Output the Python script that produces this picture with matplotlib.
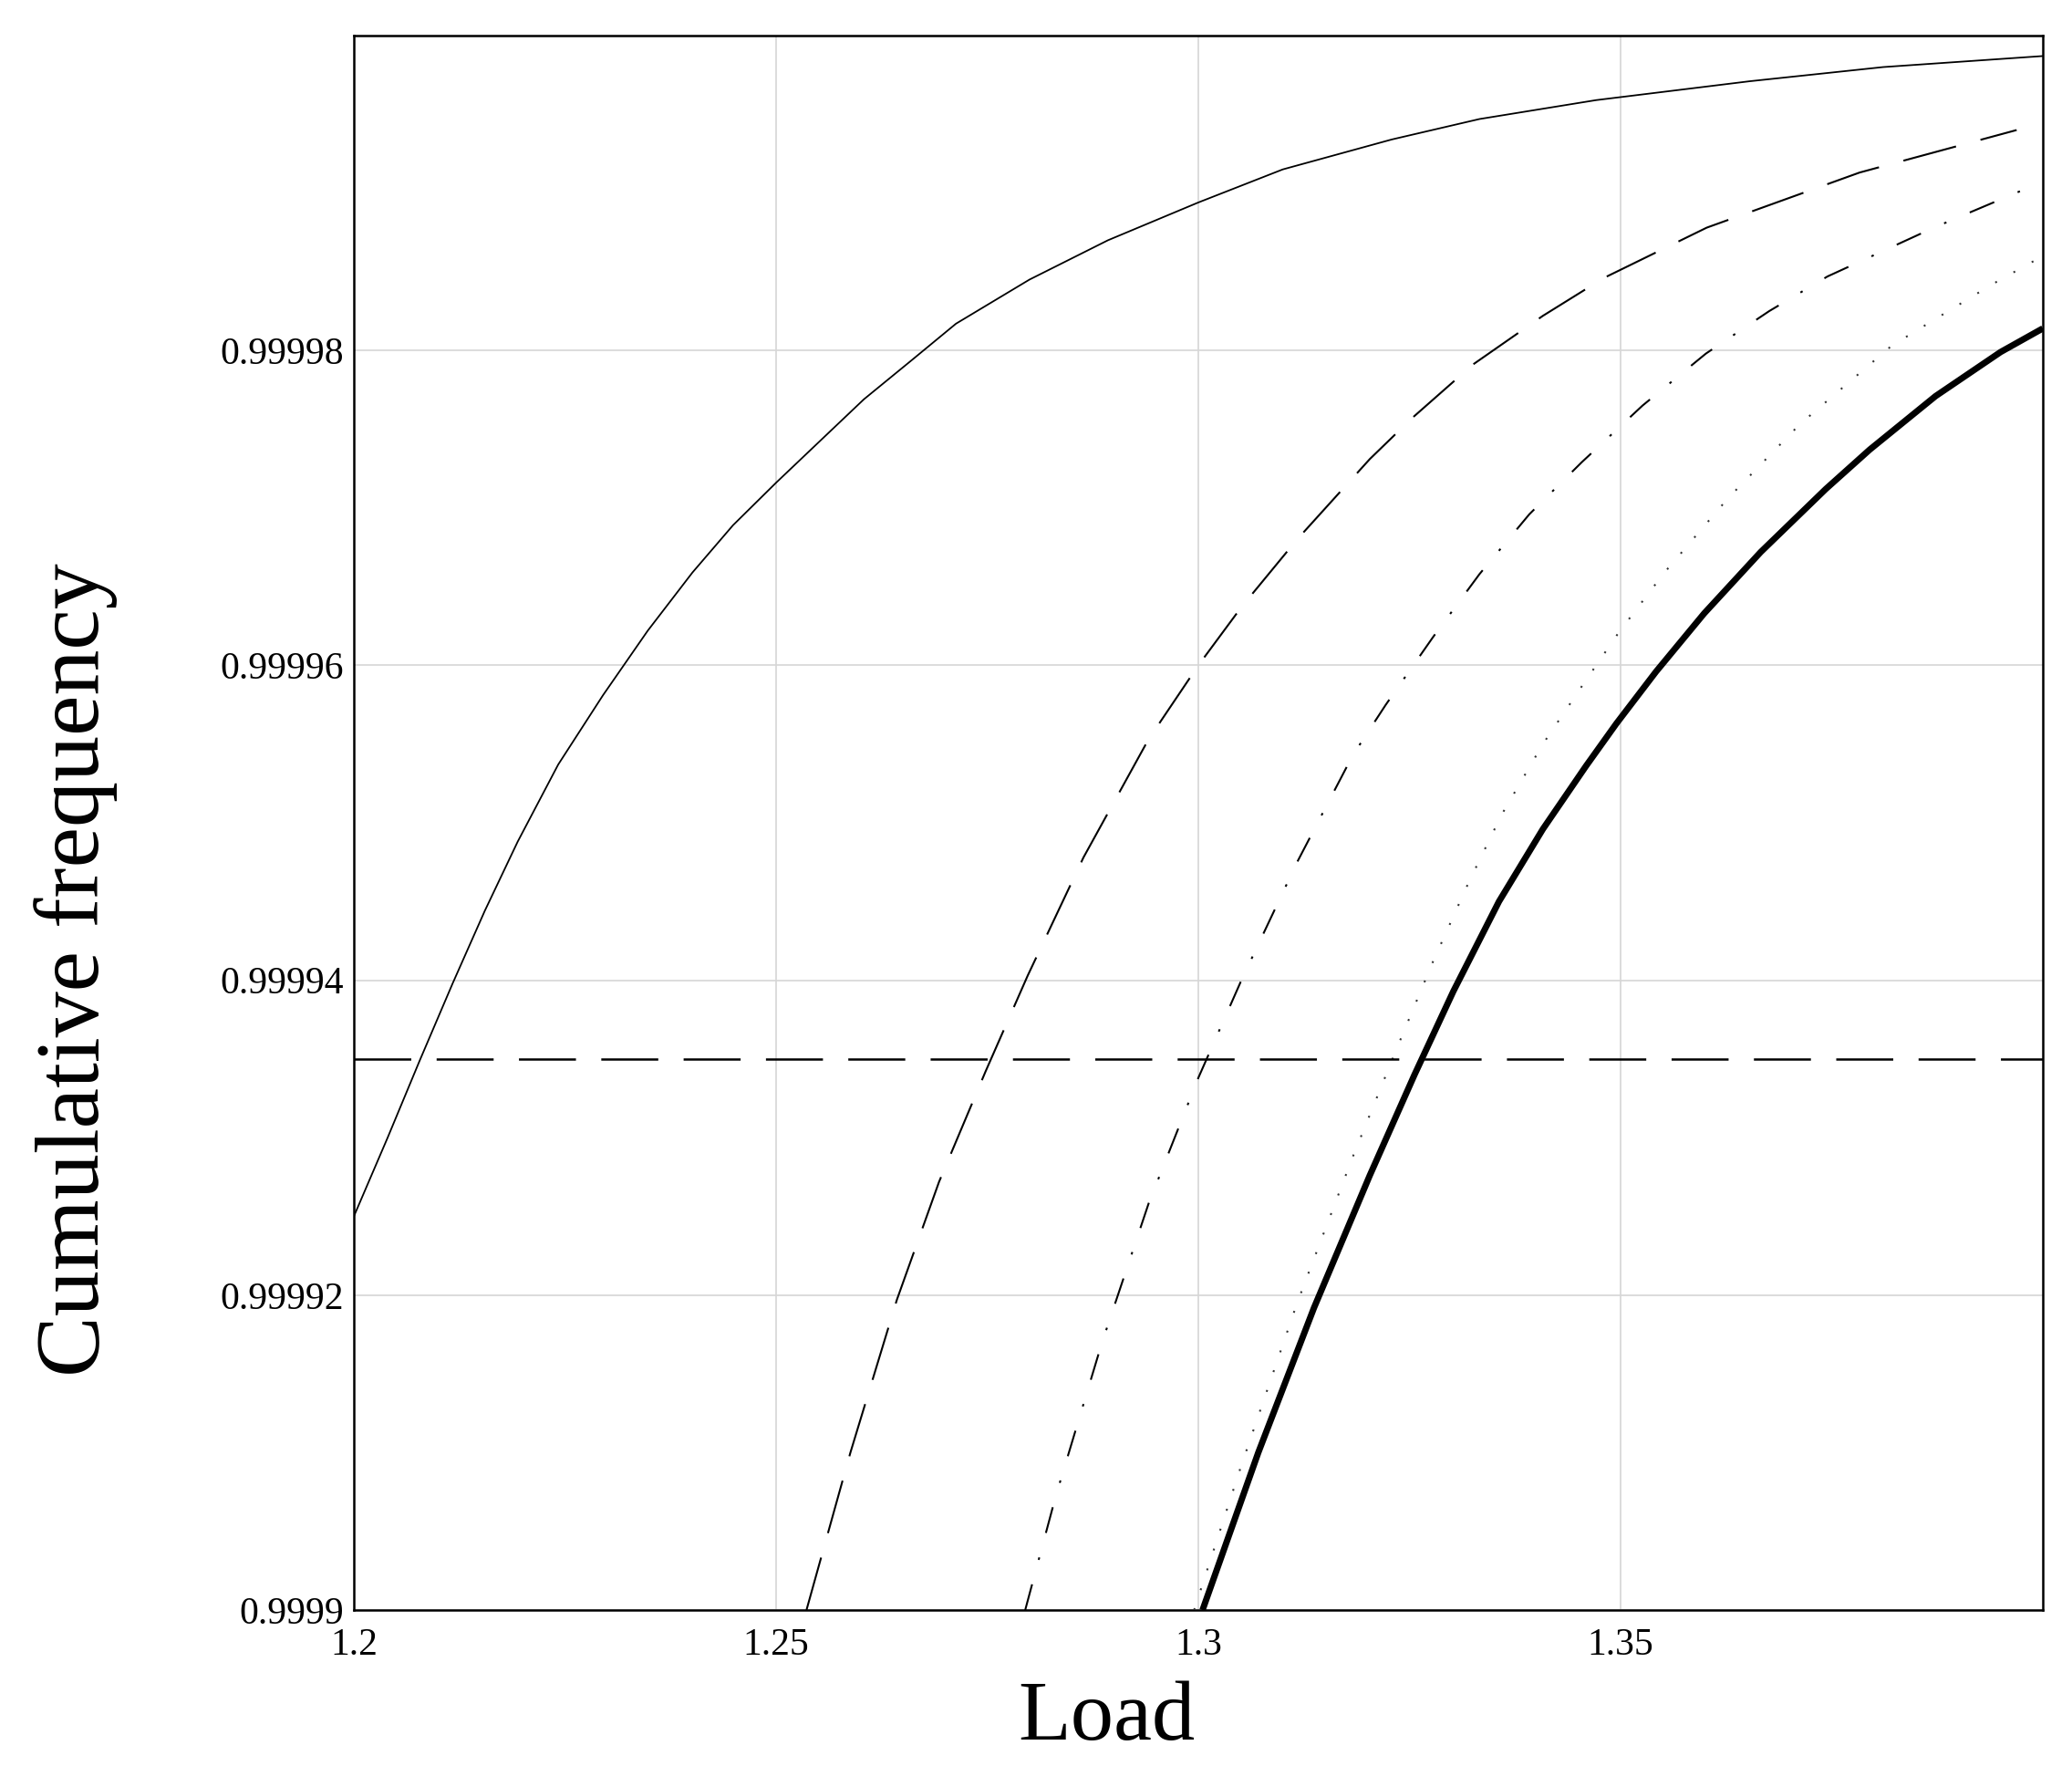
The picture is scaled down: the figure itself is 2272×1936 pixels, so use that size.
import matplotlib
matplotlib.use("Agg")
import matplotlib.pyplot as plt
import numpy as np

plt.rcParams['font.family'] = ['Liberation Serif', 'DejaVu Serif']
plt.rcParams['lines.scale_dashes'] = False

# Values of y are given as offsets in units of 1e-5 above 0.9999
BASE = 0.9999
UNIT = 1e-5

# Curve 1: thin solid
x_solid = [1.2000, 1.2040, 1.2078, 1.2117, 1.2155, 1.2194, 1.2242, 1.2295, 1.2348,
           1.2401, 1.2449, 1.2500, 1.2551, 1.2604, 1.2661, 1.2713, 1.2800, 1.2893,
           1.3000, 1.3100, 1.3229, 1.3333, 1.3471, 1.3653, 1.3811, 1.4000]
y_solid = [2.50, 3.00, 3.49, 3.98, 4.44, 4.88, 5.37, 5.81, 6.22,
           6.59, 6.89, 7.16, 7.42, 7.69, 7.94, 8.17, 8.45, 8.70,
           8.94, 9.15, 9.34, 9.47, 9.59, 9.71, 9.80, 9.87]

# Curve 2: long dashed
x_dash = [1.2536, 1.2588, 1.2643, 1.2693, 1.2748, 1.2798, 1.2864, 1.2941, 1.3000,
          1.3051, 1.3117, 1.3203, 1.3253, 1.3325, 1.3408, 1.3480, 1.3602, 1.3783, 1.3969]
y_dash = [0.00, 1.00, 1.97, 2.72, 3.42, 4.03, 4.78, 5.53, 6.00,
          6.37, 6.80, 7.31, 7.57, 7.91, 8.22, 8.46, 8.78, 9.13, 9.40]

# Curve 3: dash-dot
x_dashdot = [1.2795, 1.2831, 1.2886, 1.2941, 1.3000, 1.3051, 1.3117, 1.3183, 1.3222,
             1.3278, 1.3333, 1.3392, 1.3454, 1.3526, 1.3601, 1.3676, 1.3745, 1.3871, 1.3990]
y_dashdot = [0.00, 0.72, 1.70, 2.58, 3.38, 4.00, 4.75, 5.43, 5.75,
             6.18, 6.58, 6.96, 7.29, 7.65, 7.98, 8.25, 8.47, 8.78, 9.05]

# Curve 4: dotted
x_dot = [1.2995, 1.3051, 1.3117, 1.3183, 1.3236, 1.3278, 1.3320, 1.3359, 1.3408,
         1.3457, 1.3498, 1.3552, 1.3627, 1.3712, 1.3821, 1.3940, 1.4000]
y_dot = [0.00, 0.92, 1.95, 2.88, 3.58, 4.12, 4.62, 5.05, 5.50,
         5.89, 6.21, 6.59, 7.06, 7.53, 8.03, 8.42, 8.60]

# Curve 5: thick solid
x_thick = [1.3005, 1.3071, 1.3137, 1.3203, 1.3256, 1.3302, 1.3356, 1.3408, 1.3459,
           1.3495, 1.3542, 1.3599, 1.3666, 1.3743, 1.3795, 1.3873, 1.3950, 1.4000]
y_thick = [0.00, 1.00, 1.92, 2.76, 3.40, 3.93, 4.50, 4.96, 5.36,
           5.63, 5.96, 6.33, 6.72, 7.12, 7.37, 7.71, 7.99, 8.14]

# Horizontal reference level
ref_level = 0.999935

x_ticks = [1.2, 1.25, 1.3, 1.35]
x_tick_labels = ['1.2', '1.25', '1.3', '1.35']
y_ticks = [0.9999, 0.99992, 0.99994, 0.99996, 0.99998]
y_tick_labels = ['0.9999', '0.99992', '0.99994', '0.99996', '0.99998']

W, H = 2272, 1936
fig = plt.figure(figsize=(W / 100, H / 100), dpi=100)
ax = fig.add_axes([388 / W, 1 - 1765 / H, 1852 / W, 1726 / H])


def conv(v):
    return BASE + np.asarray(v) * UNIT


ax.plot(x_solid, conv(y_solid), color='black', lw=1.3, zorder=3)
ax.plot(x_dash, conv(y_dash), color='black', lw=1.5, linestyle=(0, (43, 20)), zorder=3)
ax.plot(x_dashdot, conv(y_dashdot), color='black', lw=1.5,
        linestyle=(0, (21, 20, 2, 20)), zorder=3)
ax.plot(x_dot, conv(y_dot), color='#333333', lw=1.5, linestyle=(0, (1.5, 15)), zorder=3)
ax.plot(x_thick, conv(y_thick), color='black', lw=5.0, zorder=4, solid_capstyle='butt')
ax.axhline(ref_level, color='black', lw=1.8, linestyle=(0, (45, 20)), zorder=3)

ax.set_xlim(1.2, 1.4)
ax.set_ylim(0.9999, 1.0)
ax.set_xticks(x_ticks)
ax.set_xticklabels(x_tick_labels)
ax.set_yticks(y_ticks)
ax.set_yticklabels(y_tick_labels)
ax.tick_params(axis='both', length=0, labelsize=30)
ax.tick_params(axis='x', pad=14)
ax.tick_params(axis='y', pad=8)
ax.grid(True, color='#d6d6d6', lw=1.2, zorder=0)
ax.set_axisbelow(True)
for sp in ax.spines.values():
    sp.set_linewidth(1.8)
    sp.set_color('black')

fig.text(83 / W, 1 - 1063 / H, 'Cumulative frequency', rotation=90,
         ha='center', va='center', fontsize=72)
fig.text(1213 / W, 1 - 1907 / H, 'Load', ha='center', va='baseline', fontsize=68)

fig.savefig('out.png', dpi=100, facecolor='white')
